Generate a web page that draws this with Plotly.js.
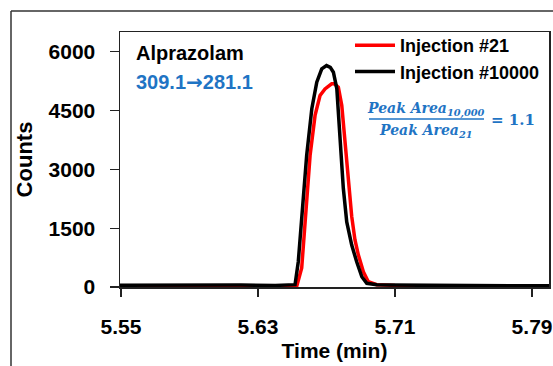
<!DOCTYPE html>
<html>
<head>
<meta charset="utf-8">
<script src="https://cdn.plot.ly/plotly-3.0.1.min.js"></script>
<style>html,body{margin:0;padding:0;background:#fff;}#chart{width:553px;height:366px;}</style>
</head>
<body>
<div id="chart"></div>
<script>
// Injection #21 (red)
var timeInj21 = [5.549, 5.58, 5.61, 5.64, 5.650, 5.6526, 5.6555, 5.6574, 5.6604, 5.6633, 5.6662, 5.6691, 5.6730, 5.6745, 5.6769, 5.6789, 5.6808, 5.6827, 5.6847, 5.6866, 5.6886, 5.6915, 5.6944, 5.6993, 5.71, 5.74, 5.77, 5.80];
var countsInj21 = [10, 15, 12, 10, 12, 20, 483, 1660, 3356, 4373, 4881, 5050, 5178, 5178, 5093, 4627, 3700, 2700, 1800, 1200, 813, 389, 135, 60, 40, 30, 25, 20];
// Injection #10000 (black)
var timeInj10000 = [5.549, 5.57, 5.60, 5.62, 5.64, 5.650, 5.6516, 5.6535, 5.6555, 5.6584, 5.6614, 5.6643, 5.6672, 5.6700, 5.6722, 5.6740, 5.6760, 5.6779, 5.6798, 5.6818, 5.6847, 5.6876, 5.6906, 5.6935, 5.6993, 5.7071, 5.73, 5.76, 5.80];
var countsInj10000 = [45, 50, 42, 48, 40, 42, 60, 644, 1660, 3356, 4543, 5220, 5559, 5643, 5600, 5474, 5059, 3788, 2517, 1660, 1068, 644, 262, 93, 55, 48, 45, 35, 30];

var seriesNames = ["Injection #21", "Injection #10000"];
var xTicks = [5.55, 5.63, 5.71, 5.79];
var xTickText = ["5.55", "5.63", "5.71", "5.79"];
var yTicks = [0, 1500, 3000, 4500, 6000];
var compoundName = "Alprazolam";
var precursorIon = "309.1", productIon = "281.1";
var ratioText = "= 1.1";

// layout geometry (pixels)
var W = 553, H = 366, L = 120, R = 549, T = 32, B = 287;
function px(x) { return (x - L) / (R - L); }
function py(y) { return (B - y) / (B - T); }

var blue = "#1f74c4";
var traces = [
  {x: timeInj21, y: countsInj21, name: seriesNames[0], type: "scatter", mode: "lines",
   line: {color: "#ff0000", width: 3.5}},
  {x: timeInj10000, y: countsInj10000, name: seriesNames[1], type: "scatter", mode: "lines",
   line: {color: "#000000", width: 3.5}}
];

var tickFont = {family: "Liberation Sans, Arial, sans-serif", size: 21, color: "#000"};
var layout = {
  width: W, height: H,
  margin: {l: L, r: W - R, t: T, b: H - B, pad: 0},
  paper_bgcolor: "#fff", plot_bgcolor: "#fff",
  showlegend: true,
  legend: {x: px(350), y: py(27), xanchor: "left", yanchor: "top", bgcolor: "rgba(0,0,0,0)",
           borderwidth: 0, tracegroupgap: 0, itemwidth: 40,
           font: {family: "Liberation Sans, Arial, sans-serif", size: 18, color: "#000", weight: "bold"}},
  xaxis: {range: [5.5494, 5.7999], tickvals: xTicks, ticktext: xTickText, showgrid: false, zeroline: false,
          showline: true, mirror: true, linecolor: "#222", linewidth: 1.5,
          ticks: "outside", ticklen: 8, tickwidth: 1.2, tickcolor: "#222",
          ticklabelstandoff: 12,
          tickfont: Object.assign({weight: "bold"}, tickFont),
          title: {text: "Time (min)", standoff: 6,
                  font: {family: "Liberation Sans, Arial, sans-serif", size: 21, color: "#000", weight: "bold"}}},
  yaxis: {range: [0, 6500], tickvals: yTicks, showgrid: false, zeroline: false,
          showline: true, mirror: true, linecolor: "#222", linewidth: 1.5,
          ticks: "outside", ticklen: 9, tickwidth: 1.2, tickcolor: "#222",
          ticklabelstandoff: 10,
          tickfont: Object.assign({weight: "bold"}, tickFont),
          title: {text: "Counts", standoff: 10,
                  font: {family: "Liberation Sans Narrow, Arial Narrow, sans-serif", size: 22, color: "#000", weight: "bold"}}},
  shapes: [
    {type: "line", xref: "paper", yref: "paper", x0: px(11), x1: px(11), y0: py(11), y1: py(400),
     line: {color: "#333", width: 1.5}},
    {type: "line", xref: "paper", yref: "paper", x0: px(11), x1: px(600), y0: py(11), y1: py(11),
     line: {color: "#333", width: 1.5}},
    {type: "line", xref: "paper", yref: "paper", x0: px(369), x1: px(484), y0: py(119), y1: py(119),
     line: {color: blue, width: 1.3}}
  ],
  annotations: [
    {xref: "paper", yref: "paper", x: px(134), y: py(53), xanchor: "left", yanchor: "middle", showarrow: false,
     text: "<b>" + compoundName + "</b>",
     font: {family: "Liberation Sans, Arial, sans-serif", size: 20, color: "#000"}},
    {xref: "paper", yref: "paper", x: px(134), y: py(82), xanchor: "left", yanchor: "middle", showarrow: false,
     text: "<b>" + precursorIon + "<span style=\"font-family:'DejaVu Sans'\">\u2192</span>" + productIon + "</b>",
     font: {family: "Liberation Sans, Arial, sans-serif", size: 20, color: blue}},
    {xref: "paper", yref: "paper", x: px(426), y: py(109), xanchor: "center", yanchor: "middle", showarrow: false,
     text: "<b><i>Peak Area<sub>10,000</sub></i></b>",
     font: {family: "DejaVu Serif, Liberation Serif, serif", size: 14, color: blue}},
    {xref: "paper", yref: "paper", x: px(426), y: py(131), xanchor: "center", yanchor: "middle", showarrow: false,
     text: "<b><i>Peak Area<sub>21</sub></i></b>",
     font: {family: "DejaVu Serif, Liberation Serif, serif", size: 14, color: blue}},
    {xref: "paper", yref: "paper", x: px(489), y: py(120), xanchor: "left", yanchor: "middle", showarrow: false,
     text: "<b>" + ratioText + "</b>",
     font: {family: "DejaVu Serif, Liberation Serif, serif", size: 15, color: blue}}
  ]
};

Plotly.newPlot("chart", traces, layout, {displayModeBar: false, staticPlot: true});
</script>
</body>
</html>
